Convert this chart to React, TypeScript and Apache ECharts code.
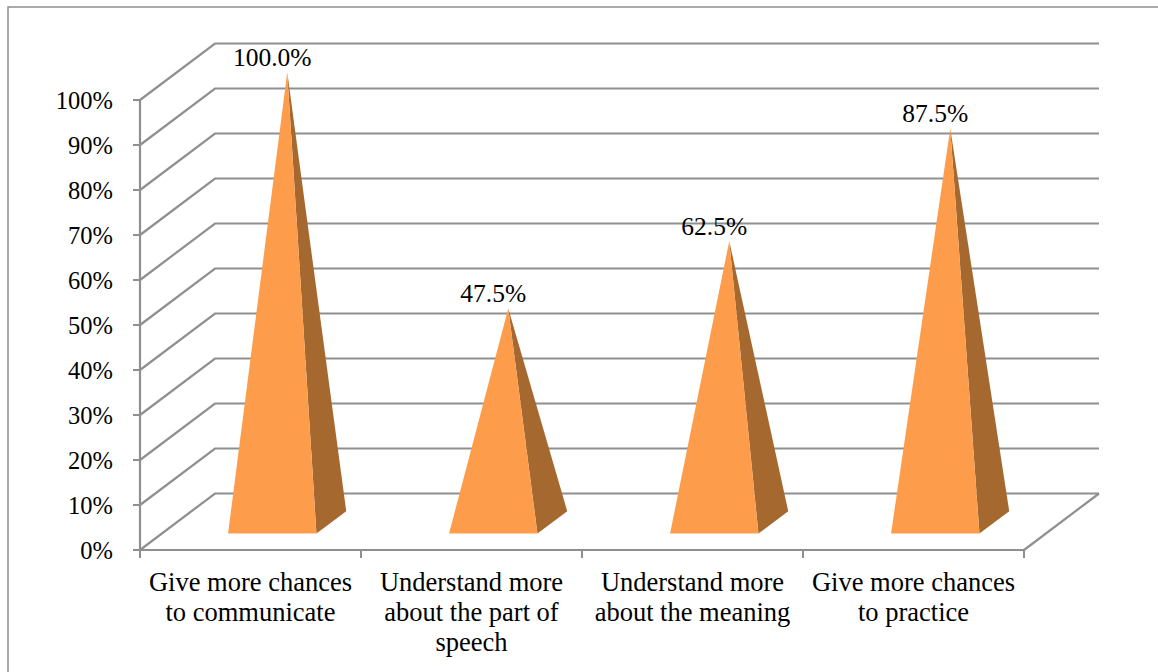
import React, { useEffect, useRef } from "react";
import * as echarts from "echarts";

const categories = [
  "Give more chances\nto communicate",
  "Understand more\nabout the part of\nspeech",
  "Understand more\nabout the meaning",
  "Give more chances\nto practice",
];
const percentages = [100, 47.5, 62.5, 87.5];
const wallTicks = [0, 10, 20, 30, 40, 50, 60, 70, 80, 90, 100];

const FONT = '"Liberation Serif", "Times New Roman", serif';
const GRID_LINE = "#8f8f8f";
const FACE_FRONT = "#fd9d4c";
const FACE_SIDE = "#a5682f";
const LINE_WIDTH = 2.2;

// Oblique projection of the chart's depth axis, in pixels.
const DEPTH_X = 75;
const DEPTH_Y = -56.5;
const BASE_NEAR = 0.29;
const BASE_FAR = 0.687;
const APEX_DEPTH = 0.49;
const BASE_HALF_WIDTH_RATIO = 0.2;

const project = (p: number[], depth: number) => [p[0] + DEPTH_X * depth, p[1] + DEPTH_Y * depth];

function renderWall(params: any, api: any) {
  const rect = params.coordSys;
  const y = api.coord([0, api.value(1)])[1];
  const x0 = rect.x;
  const x1 = rect.x + rect.width;
  const children: any[] = [
    {
      type: "polyline",
      shape: { points: [[x0, y], project([x0, y], 1), project([x1, y], 1)] },
      style: { stroke: GRID_LINE, lineWidth: LINE_WIDTH, fill: "none" },
    },
  ];
  if (api.value(1) === 0) {
    children.push({
      type: "line",
      shape: { x1, y1: y, x2: x1 + DEPTH_X, y2: y + DEPTH_Y },
      style: { stroke: GRID_LINE, lineWidth: LINE_WIDTH },
    });
  }
  return { type: "group", children };
}

function renderPyramid(params: any, api: any) {
  const idx = api.value(0);
  const value = api.value(1);
  const floor = api.coord([idx, 0]);
  const top = project(api.coord([idx, value]), APEX_DEPTH);
  const half = (api.size([1, 0])[0] as number) * BASE_HALF_WIDTH_RATIO;
  const near = project(floor, BASE_NEAR);
  const far = project(floor, BASE_FAR);
  const nearLeft = [near[0] - half, near[1]];
  const nearRight = [near[0] + half, near[1]];
  const farRight = [far[0] + half, far[1]];
  return {
    type: "group",
    children: [
      {
        type: "polygon",
        shape: { points: [top, nearRight, farRight] },
        style: { fill: FACE_SIDE },
      },
      {
        type: "polygon",
        shape: { points: [top, nearLeft, nearRight] },
        style: { fill: FACE_FRONT },
      },
      {
        type: "text",
        style: {
          text: value.toFixed(1) + "%",
          x: top[0] - 15,
          y: top[1] - 15,
          align: "center",
          verticalAlign: "middle",
          fontFamily: FONT,
          fontSize: 25.5,
          fill: "#000",
        },
      },
    ],
  };
}

export default function App() {
  const ref = useRef<HTMLDivElement>(null);
  useEffect(() => {
    const chart = echarts.init(ref.current!, null, { renderer: "svg" });
    chart.setOption({
      animation: false,
      backgroundColor: "#fff",
      graphic: [
        {
          type: "rect",
          shape: { x: 8, y: 7, width: 1300, height: 800 },
          style: { fill: "none", stroke: GRID_LINE, lineWidth: 1.5 },
          silent: true,
        },
      ],
      grid: { left: 140, top: 100, right: 134, bottom: 122 },
      xAxis: {
        type: "category",
        data: categories,
        boundaryGap: true,
        axisLine: { lineStyle: { color: GRID_LINE, width: LINE_WIDTH } },
        axisTick: { show: true, alignWithLabel: false, length: 8, lineStyle: { color: GRID_LINE, width: 2 } },
        axisLabel: {
          interval: 0,
          margin: 17,
          fontFamily: FONT,
          fontSize: 26.5,
          lineHeight: 30,
          color: "#000",
        },
      },
      yAxis: {
        type: "value",
        min: 0,
        max: 100,
        interval: 10,
        splitLine: { show: false },
        axisLine: { show: true, lineStyle: { color: GRID_LINE, width: LINE_WIDTH } },
        axisTick: { show: true, length: 7, lineStyle: { color: GRID_LINE, width: 2 } },
        axisLabel: {
          formatter: "{value}%",
          margin: 27,
          fontFamily: FONT,
          fontSize: 24.5,
          color: "#000",
        },
      },
      series: [
        {
          type: "custom",
          renderItem: renderWall,
          data: wallTicks.map((t) => [0, t]),
          encode: { x: 0, y: 1 },
          silent: true,
          z: 1,
        },
        {
          type: "custom",
          renderItem: renderPyramid,
          data: percentages.map((v, i) => [i, v]),
          encode: { x: 0, y: 1 },
          silent: true,
          z: 3,
        },
      ],
    });
    return () => chart.dispose();
  }, []);
  return (
    <div
      ref={ref}
      style={{ position: "absolute", left: 0, top: 0, width: 1158, height: 672 }}
    />
  );
}
